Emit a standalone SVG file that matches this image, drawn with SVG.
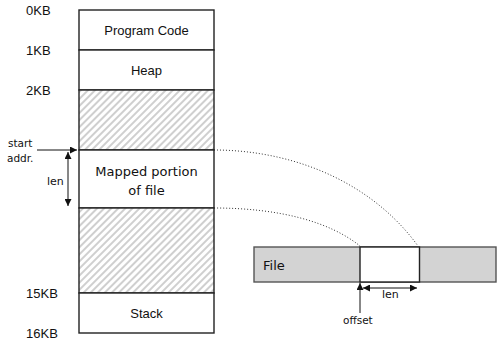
<svg xmlns="http://www.w3.org/2000/svg" width="499" height="342" viewBox="0 0 499 342">
<defs>
<style>
.box{fill:#fff;stroke:#222;stroke-width:1.4}
.hatch{fill:url(#h);stroke:#222;stroke-width:1.4}
.lab{font-family:"Liberation Sans",Arial,sans-serif;font-size:13px;fill:#111}
.dj{font-family:"DejaVu Sans",sans-serif;fill:#111}
.arr{stroke:#111;stroke-width:1;fill:none}
.dot{stroke:#333;stroke-width:1;fill:none;stroke-dasharray:1 2}
.file{fill:#d3d3d3;stroke:#555;stroke-width:1.4}
</style>
<pattern id="h" patternUnits="userSpaceOnUse" width="5" height="5" patternTransform="rotate(45)">
<rect width="5" height="5" fill="#fff"/>
<rect x="0" y="0" width="2" height="5" fill="#cfcfcf"/>
</pattern>
<marker id="ah" viewBox="0 0 10 10" refX="10" refY="5" markerWidth="8" markerHeight="7" markerUnits="userSpaceOnUse" orient="auto-start-reverse">
<path d="M0,0 L10,5 L0,10 z" fill="#111"/>
</marker>
</defs>

<g id="memory">
<g id="program-code"><rect class="box" x="79" y="10" width="135" height="40"/><text class="lab" x="146.5" y="35" text-anchor="middle">Program Code</text></g>
<g id="heap"><rect class="box" x="79" y="50" width="135" height="40"/><text class="lab" x="146.5" y="75" text-anchor="middle">Heap</text></g>
<g id="free1"><rect class="hatch" x="79" y="90" width="135" height="60"/></g>
<g id="mapped"><rect class="box" x="79" y="150" width="135" height="58"/><text class="dj" font-size="13" x="146.5" y="176" text-anchor="middle">Mapped portion</text><text class="dj" font-size="13" x="146.5" y="195" text-anchor="middle">of file</text></g>
<g id="free2"><rect class="hatch" x="79" y="208" width="135" height="85"/></g>
<g id="stack"><rect class="box" x="79" y="293" width="135" height="40"/><text class="lab" x="146.5" y="318" text-anchor="middle">Stack</text></g>
</g>

<g id="addresses">
<text class="lab" x="26" y="15">0KB</text>
<text class="lab" x="26" y="55">1KB</text>
<text class="lab" x="26" y="95">2KB</text>
<text class="lab" x="26" y="298">15KB</text>
<text class="lab" x="26" y="338">16KB</text>
</g>

<g id="file">
<rect class="file" x="254" y="247" width="242" height="35"/>
<rect x="360" y="247" width="59.5" height="35" fill="#fff" stroke="#222" stroke-width="1.4"/>
<text class="dj" font-size="13" x="263" y="270">File</text>
</g>

<g id="connectors">
<path class="dot" d="M214,150 C290,150 370,180 418,246"/>
<path class="dot" d="M214,208 C280,208 330,222 360,246"/>
<line class="arr" x1="37" y1="150" x2="77" y2="150" marker-end="url(#ah)"/>
<line class="arr" x1="68" y1="152" x2="68" y2="206" marker-start="url(#ah)" marker-end="url(#ah)"/>
<line class="arr" x1="360" y1="313" x2="360" y2="283" marker-end="url(#ah)"/>
<line class="arr" x1="363" y1="288" x2="417" y2="288" marker-start="url(#ah)" marker-end="url(#ah)"/>
</g>

<g id="labels">
<text class="dj" font-size="10.5" x="8" y="147">start</text>
<text class="dj" font-size="10.5" x="7" y="162">addr.</text>
<text class="dj" font-size="11" x="47" y="185">len</text>
<text class="dj" font-size="11" x="382" y="298">len</text>
<text class="dj" font-size="10.5" x="343" y="324">offset</text>
</g>
</svg>
